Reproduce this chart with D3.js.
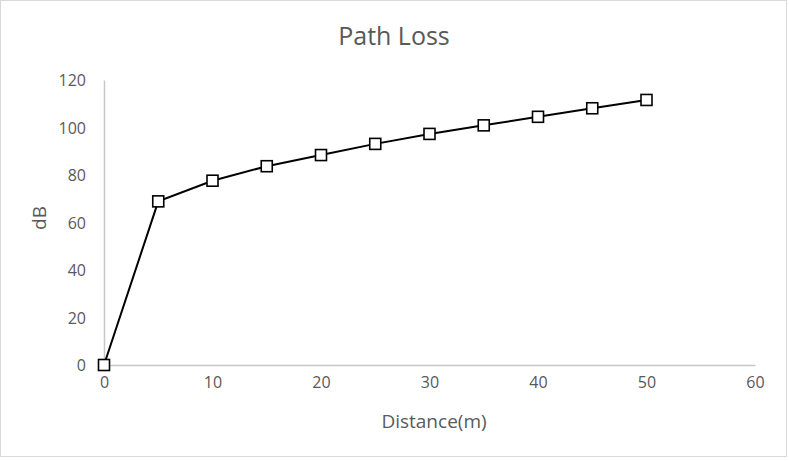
<!DOCTYPE html>
<html><head><meta charset="utf-8">
<script src="https://cdn.jsdelivr.net/npm/d3@7"></script>
<style>body{margin:0;background:#fff;} svg{display:block;font-family:"Open Sans","Noto Sans",sans-serif;}</style>
</head><body>
<script>
const distances = [0,5,10,15,20,25,30,35,40,45,50];
const pathLoss = [0,68.9,77.6,83.7,88.4,93.1,97.3,100.9,104.5,108.1,111.6];
const xTicks = [0,10,20,30,40,50,60];
const yTicks = [0,20,40,60,80,100,120];
const title = "Path Loss";
const xLabel = "Distance(m)";
const yLabel = "dB";

const W=789,H=461;
const svg=d3.select("body").append("svg").attr("width",W).attr("height",H);
svg.append("rect").attr("x",0.5).attr("y",0.5).attr("width",786).attr("height",456)
  .attr("fill","#fff").attr("stroke","#d9d9d9");
const x=d3.scaleLinear().domain([0,60]).range([104,755]);
const y=d3.scaleLinear().domain([0,120]).range([365,80]);
const grey="#595959";
// axes
const xa=svg.append("g").attr("transform","translate(0,365)")
  .call(d3.axisBottom(x).tickValues(xTicks).tickSize(0).tickPadding(18));
const ya=svg.append("g").attr("transform","translate(104,0)")
  .call(d3.axisLeft(y).tickValues(yTicks).tickSize(0).tickPadding(18));
[xa,ya].forEach(a=>{
  a.select(".domain").attr("stroke","#c8c8c8").attr("stroke-width",1.5);
  a.selectAll("text").attr("fill",grey).attr("font-size",16).attr("font-family","'Open Sans',sans-serif");
});
xa.selectAll("text").attr("dy","0.3em");
ya.selectAll("text").attr("dy","0.35em");
// line
svg.append("path").datum(distances.map((d,i)=>[d,pathLoss[i]]))
  .attr("fill","none").attr("stroke","#000").attr("stroke-width",2)
  .attr("d",d3.line().x(d=>x(d[0])).y(d=>y(d[1])));
svg.selectAll("rect.m").data(distances).enter().append("rect").attr("class","m")
  .attr("x",(d)=>x(d)-5.5).attr("y",(d,i)=>y(pathLoss[i])-5.5)
  .attr("width",11).attr("height",11).attr("fill","#fff").attr("stroke","#000").attr("stroke-width",1.6);
// texts
svg.append("text").attr("x",394).attr("y",45).attr("text-anchor","middle")
  .attr("font-size",25).attr("fill",grey).text(title);
svg.append("text").attr("x",434).attr("y",428).attr("text-anchor","middle")
  .attr("font-size",19).attr("fill",grey).text(xLabel);
svg.append("text").attr("transform","translate(46,218) rotate(-90)").attr("text-anchor","middle")
  .attr("font-size",19).attr("fill",grey).text(yLabel);
</script>
</body></html>
